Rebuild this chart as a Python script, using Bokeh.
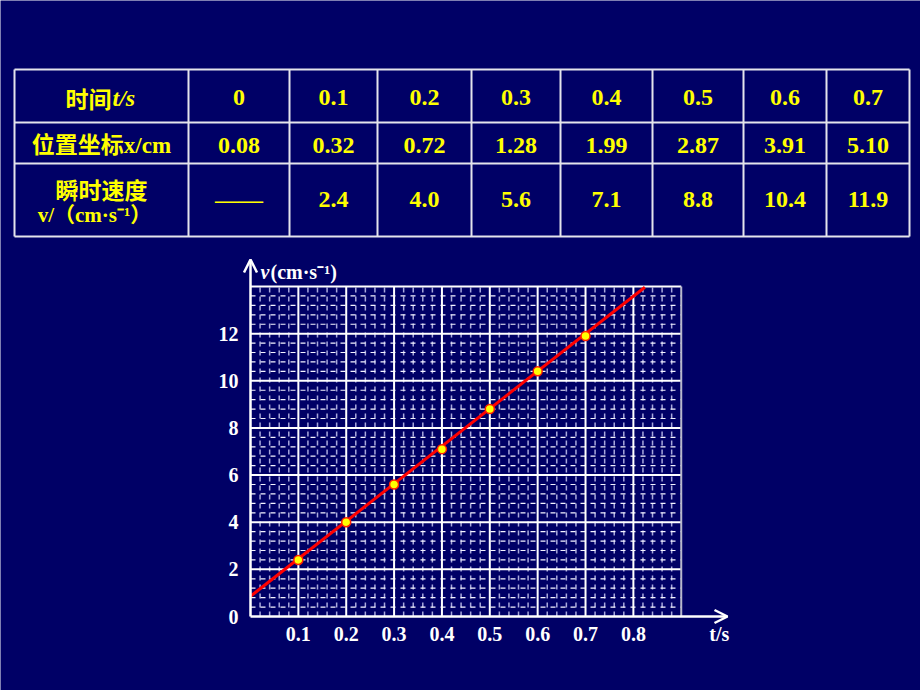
from bokeh.plotting import figure
from bokeh.models import Range1d, ColumnDataSource, Arrow, OpenHead
from bokeh.core.properties import value
from bokeh.embed import file_html
from bokeh.resources import INLINE

# ---------------- data ----------------
time_s = [0, 0.1, 0.2, 0.3, 0.4, 0.5, 0.6, 0.7]
time_labels = ["0", "0.1", "0.2", "0.3", "0.4", "0.5", "0.6", "0.7"]
position_cm = [0.08, 0.32, 0.72, 1.28, 1.99, 2.87, 3.91, 5.10]
speed_cms = [None, 2.4, 4.0, 5.6, 7.1, 8.8, 10.4, 11.9]

fit_t = [0.0, 0.824]          # fitted straight line endpoints
fit_v = [0.86, 13.97]

x_ticks = [0.1, 0.2, 0.3, 0.4, 0.5, 0.6, 0.7, 0.8]
x_tick_labels = ["0.1", "0.2", "0.3", "0.4", "0.5", "0.6", "0.7", "0.8"]
y_ticks = [0, 2, 4, 6, 8, 10, 12]
y_tick_labels = ["0", "2", "4", "6", "8", "10", "12"]
grid_t_max = 0.9
grid_v_max = 14

# ---------------- layout / style ----------------
W, H = 920, 690
X0, SX = 250.0, 478.6      # pixel of t=0, pixels per second
Y0, SY = 616.0, 23.57      # pixel of v=0, pixels per cm/s
BG = "#000066"
YELLOW = "#ffff00"
WHITE = "#ffffff"
TABLE_LINE = "#e4e4ec"
SERIF = "Liberation Serif"
CJK = "Noto Sans CJK SC"
MIX = "Liberation Serif, Noto Sans CJK SC"

p = figure(width=W, height=H, output_backend="svg", toolbar_location=None,
           x_axis_location=None, y_axis_location=None, min_border=0,
           x_range=Range1d(-X0 / SX, (W - X0) / SX),
           y_range=Range1d(-(H - Y0) / SY, Y0 / SY),
           background_fill_color=BG, border_fill_color=BG,
           outline_line_color=None)
p.grid.visible = False
p.extra_x_ranges = {"sx": Range1d(0, W)}
p.extra_y_ranges = {"sy": Range1d(H, 0)}
S = dict(x_range_name="sx", y_range_name="sy")

# ---------------- table ----------------
col_edges = [14, 188, 289, 377, 471, 560, 652, 743, 826, 909]
row_edges = [69, 122, 163, 236]
p.segment(x0=[col_edges[0]] * len(row_edges), x1=[col_edges[-1]] * len(row_edges),
          y0=row_edges, y1=row_edges, line_color=TABLE_LINE, line_width=2, **S)
p.segment(x0=col_edges, x1=col_edges, y0=[row_edges[0]] * len(col_edges),
          y1=[row_edges[-1]] * len(col_edges), line_color=TABLE_LINE, line_width=2, **S)

centers = [(col_edges[i] + col_edges[i + 1]) / 2 for i in range(1, len(col_edges) - 1)]
row_y = [97, 145, 199]
vals = (time_labels
        + [f"{v:.2f}" for v in position_cm]
        + ["——" if v is None else f"{v:.1f}" for v in speed_cms])
xs = centers * 3
ys = [row_y[0]] * 8 + [row_y[1]] * 8 + [row_y[2]] * 8
src = ColumnDataSource(dict(x=xs, y=ys, t=vals))
p.text(x="x", y="y", text="t", source=src, text_color=YELLOW,
       text_font=value(SERIF), text_font_style="bold", text_font_size="24px",
       text_align="center", text_baseline="middle", **S)

# header column
hx = (col_edges[0] + col_edges[1]) / 2
p.text(x=[hx + 10], y=[97], text=["时间"], text_color=YELLOW, text_font=value(CJK),
       text_font_style="bold", text_font_size="23px", text_align="right",
       text_baseline="middle", **S)
p.text(x=[hx + 11], y=[97], text=["t/s"], text_color=YELLOW, text_font=value(SERIF),
       text_font_style="bold italic", text_font_size="24px", text_align="left",
       text_baseline="middle", **S)
p.text(x=[hx], y=[145], text=["位置坐标x/cm"], text_color=YELLOW, text_font=value(MIX),
       text_font_style="bold", text_font_size="23px", text_align="center",
       text_baseline="middle", **S)
p.text(x=[hx], y=[188], text=["瞬时速度"], text_color=YELLOW, text_font=value(CJK),
       text_font_style="bold", text_font_size="23px", text_align="center",
       text_baseline="middle", **S)
p.text(x=[hx - 7], y=[214], text=["v/（cm·s⁻¹）"], text_color=YELLOW, text_font=value(MIX),
       text_font_style="bold", text_font_size="21px", text_align="center",
       text_baseline="middle", **S)

# ---------------- chart grid ----------------
minor_t = [i * 0.02 for i in range(46) if i % 5 != 0]
minor_v = [j * 0.4 for j in range(36) if j % 5 != 0]
p.segment(x0=minor_t, x1=minor_t, y0=[0] * len(minor_t), y1=[grid_v_max] * len(minor_t),
          line_color="#a8a8dc", line_width=1.5, line_dash="5 4")
p.segment(x0=[0] * len(minor_v), x1=[grid_t_max] * len(minor_v), y0=minor_v, y1=minor_v,
          line_color="#f4f4ff", line_width=1.2, line_dash="5 5")

major_t = [i * 0.1 for i in range(1, 9)]
major_v = [j * 2 for j in range(1, 8)]
p.segment(x0=major_t, x1=major_t, y0=[0] * len(major_t), y1=[grid_v_max] * len(major_t),
          line_color=WHITE, line_width=2)
p.segment(x0=[0] * len(major_v), x1=[grid_t_max] * len(major_v), y0=major_v, y1=major_v,
          line_color=WHITE, line_width=2)
p.segment(x0=[grid_t_max], x1=[grid_t_max], y0=[0], y1=[grid_v_max],
          line_color="#b8b8cc", line_width=2)

# axes with arrows
p.add_layout(Arrow(x_start=0, y_start=0, x_end=0, y_end=(Y0 - 259) / SY,
                   line_color=WHITE, line_width=2.5,
                   end=OpenHead(size=13, line_color=WHITE, line_width=2.5)))
p.add_layout(Arrow(x_start=0, y_start=0, x_end=(727 - X0) / SX, y_end=0,
                   line_color=WHITE, line_width=2.5,
                   end=OpenHead(size=13, line_color=WHITE, line_width=2.5)))

# tick labels
p.text(x=[0] * len(y_ticks), y=y_ticks, text=y_tick_labels, x_offset=-12,
       text_color=WHITE, text_font=value(SERIF), text_font_style="bold",
       text_font_size="20px", text_align="right", text_baseline="middle")
p.text(x=x_ticks, y=[0] * len(x_ticks), text=x_tick_labels, y_offset=17,
       text_color=WHITE, text_font=value(SERIF), text_font_style="bold",
       text_font_size="20px", text_align="center", text_baseline="middle")
p.text(x=[grid_t_max], y=[0], text=["t/s"], x_offset=28, y_offset=17,
       text_color=WHITE, text_font=value(SERIF), text_font_style="bold",
       text_font_size="20px", text_align="left", text_baseline="middle")
p.text(x=[0], y=[grid_v_max], text=["v"], x_offset=10, y_offset=-15,
       text_color=WHITE, text_font=value(SERIF), text_font_style="bold italic",
       text_font_size="20px", text_align="left", text_baseline="middle")
p.text(x=[0], y=[grid_v_max], text=["(cm·s⁻¹)"], x_offset=20, y_offset=-15,
       text_color=WHITE, text_font=value(SERIF), text_font_style="bold",
       text_font_size="20px", text_align="left", text_baseline="middle")

# fitted line and measured points
p.line(fit_t, fit_v, line_color="#ff0000", line_width=3)
p.scatter(time_s[1:], speed_cms[1:], size=9, fill_color=YELLOW,
          line_color="#ff2200", line_width=1.5)

open("out.html", "w").write(file_html(p, INLINE))
